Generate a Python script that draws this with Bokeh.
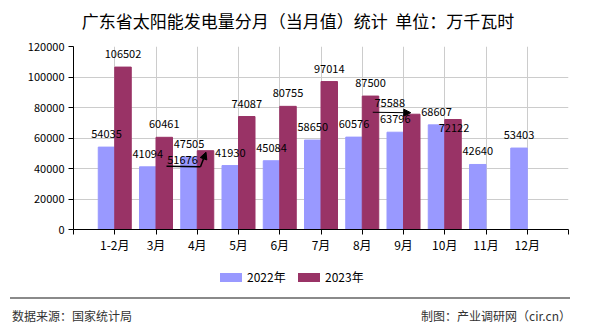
import numpy as np
from bokeh.plotting import figure
from bokeh.layouts import column
from bokeh.models import (ColumnDataSource, FixedTicker, Arrow, NormalHead, Range1d, Div)
from bokeh.embed import file_html
from bokeh.resources import INLINE
from bokeh.core.properties import value

# ---------------- data ----------------
months = ["1-2月", "3月", "4月", "5月", "6月", "7月", "8月", "9月", "10月", "11月", "12月"]
v2022 = [54035, 41094, 47505, 41930, 45084, 58650, 60576, 63796, 68607, 42640, 53403]
v2023 = [106502, 60461, 51676, 74087, 80755, 97014, 87500, 75588, 72122, None, None]
y_ticks = [0, 20000, 40000, 60000, 80000, 100000, 120000]
series_names = ["2022年", "2023年"]

TITLE = "广东省太阳能发电量分月（当月值）统计&nbsp; 单位：万千瓦时"
SOURCE = "数据来源：国家统计局"
MAKER = "制图：产业调研网（cir.cn）"

C22 = "#9999FF"
C23 = "#993366"
FONT = "Noto Sans CJK SC"

# ---------------- layout ----------------
W = 590
HEAD_H = 36
ML, MR, MT, MB = 73, 22, 10, 31
FH = 183
MAIN_H = MT + FH + MB
FOOT_H = 330 - HEAD_H - MAIN_H
FW = W - ML - MR
YMAX = y_ticks[-1]
XMAX = len(months) + 1
PXX = XMAX / FW          # data units per pixel (x)
PXY = YMAX / FH          # data units per pixel (y)
BW = 0.4

# ---------------- header ----------------
head = Div(width=W, height=HEAD_H, margin=0, text=(
    f'<div style="position:relative;width:{W}px;height:{HEAD_H}px;font-family:\'{FONT}\';">'
    f'<div style="position:absolute;left:0;top:11px;width:596px;text-align:center;'
    f'font-size:17px;line-height:20px;color:#000;white-space:nowrap;">{TITLE}</div></div>'))

# ---------------- main chart ----------------
p = figure(width=W, height=MAIN_H, x_range=Range1d(0, XMAX), y_range=Range1d(0, YMAX),
           output_backend="svg", toolbar_location=None, margin=0,
           min_border_left=ML, min_border_right=MR, min_border_top=MT, min_border_bottom=MB)
p.title.visible = False
p.outline_line_color = None

xs = np.arange(1, len(months) + 1)
src22 = ColumnDataSource(dict(x=xs - BW / 2, top=v2022))
i23 = [i for i, v in enumerate(v2023) if v is not None]
src23 = ColumnDataSource(dict(x=[xs[i] + BW / 2 for i in i23], top=[v2023[i] for i in i23]))

p.vbar(x="x", top="top", width=BW, source=src22, fill_color=C22, line_color=C22)
p.vbar(x="x", top="top", width=BW, source=src23, fill_color=C23, line_color=C23)

p.xaxis.ticker = FixedTicker(ticks=list(range(0, XMAX + 1)))
overrides = {0: "", XMAX: ""}
for i, m in enumerate(months):
    overrides[i + 1] = m
p.xaxis.major_label_overrides = overrides
p.yaxis.ticker = FixedTicker(ticks=y_ticks)
p.yaxis.formatter.use_scientific = False
for ax in (p.xaxis[0], p.yaxis[0]):
    ax.major_tick_out = 5
    ax.major_tick_in = 0
    ax.minor_tick_line_color = None
    ax.axis_line_color = "black"
    ax.major_tick_line_color = "black"
    ax.major_label_text_font = FONT
    ax.major_label_text_font_size = "11px"
    ax.major_label_text_color = "black"
p.xaxis.major_label_standoff = 1
p.yaxis.major_label_standoff = 4
p.xaxis.major_label_text_font_size = "12px"
p.xgrid.ticker = FixedTicker(ticks=list(range(0, XMAX + 1)))
p.ygrid.ticker = FixedTicker(ticks=y_ticks)
p.xgrid.grid_line_color = "#cccccc"
p.ygrid.grid_line_color = "#cccccc"

# value labels: per-label pixel adjustment (dx, dy) for 2023 series; dy>0 = down
adjust23 = {2: (-23, 22), 7: (-22, 2), 8: (1, 21)}
lx, ly, lt = [], [], []
for i, v in enumerate(v2022):
    lx.append(xs[i] - BW / 2)
    ly.append(v + 13 * PXY)
    lt.append(str(v))
for i in i23:
    v = v2023[i]
    dx, dy = adjust23.get(i, (0, 0))
    lx.append(xs[i] + BW / 2 + dx * PXX)
    ly.append(v + (13 - dy) * PXY)
    lt.append(str(v))
p.text(x=lx, y=ly, text=lt, text_font=value(FONT), text_font_size="11px",
       text_align="center", text_baseline="middle", text_color="black")


def arrow_pts(i, pts):
    bx = xs[i] + BW / 2
    top = v2023[i]
    return [(bx + dx * PXX, top - dy * PXY) for dx, dy in pts]


a4 = arrow_pts(2, [(-39, 15.5), (-5, 16), (0.5, 1.5)])
p.line([a4[0][0], a4[1][0]], [a4[0][1], a4[1][1]], line_color="black", line_width=1.5)
p.add_layout(Arrow(x_start=a4[1][0], y_start=a4[1][1], x_end=a4[2][0], y_end=a4[2][1],
                   line_color="black", line_width=1.5,
                   end=NormalHead(size=7, fill_color="black", line_color="black")))
a9 = arrow_pts(7, [(-39, -2), (-1, -1.5)])
p.add_layout(Arrow(x_start=a9[0][0], y_start=a9[0][1], x_end=a9[1][0], y_end=a9[1][1],
                   line_color="black", line_width=1.2,
                   end=NormalHead(size=7, fill_color="black", line_color="black")))

# ---------------- footer: legend + source line ----------------
def swatch(left, color, label):
    return (f'<div style="position:absolute;left:{left}px;top:13px;width:22px;height:9px;'
            f'background:{color};"></div>'
            f'<div style="position:absolute;left:{left + 27}px;top:10px;font-size:12px;'
            f'line-height:14px;color:#000;white-space:nowrap;">{label}</div>')

foot_html = (
    f'<div style="position:relative;width:{W}px;height:{FOOT_H}px;font-family:\'{FONT}\';">'
    + swatch(220, C22, series_names[0]) + swatch(298, C23, series_names[1])
    + '<div style="position:absolute;left:10px;top:37px;width:560px;height:2px;background:#8a8a8a;"></div>'
    + f'<div style="position:absolute;left:12px;top:49px;font-size:12px;line-height:14px;'
      f'color:#333;white-space:nowrap;">{SOURCE}</div>'
    + f'<div style="position:absolute;right:19px;top:49px;font-size:12px;line-height:14px;'
      f'color:#333;white-space:nowrap;">{MAKER}</div>'
    + '</div>')
foot = Div(width=W, height=FOOT_H, margin=0, text=foot_html)

layout = column(head, p, foot, spacing=0)
open("out.html", "w").write(file_html(layout, INLINE))
